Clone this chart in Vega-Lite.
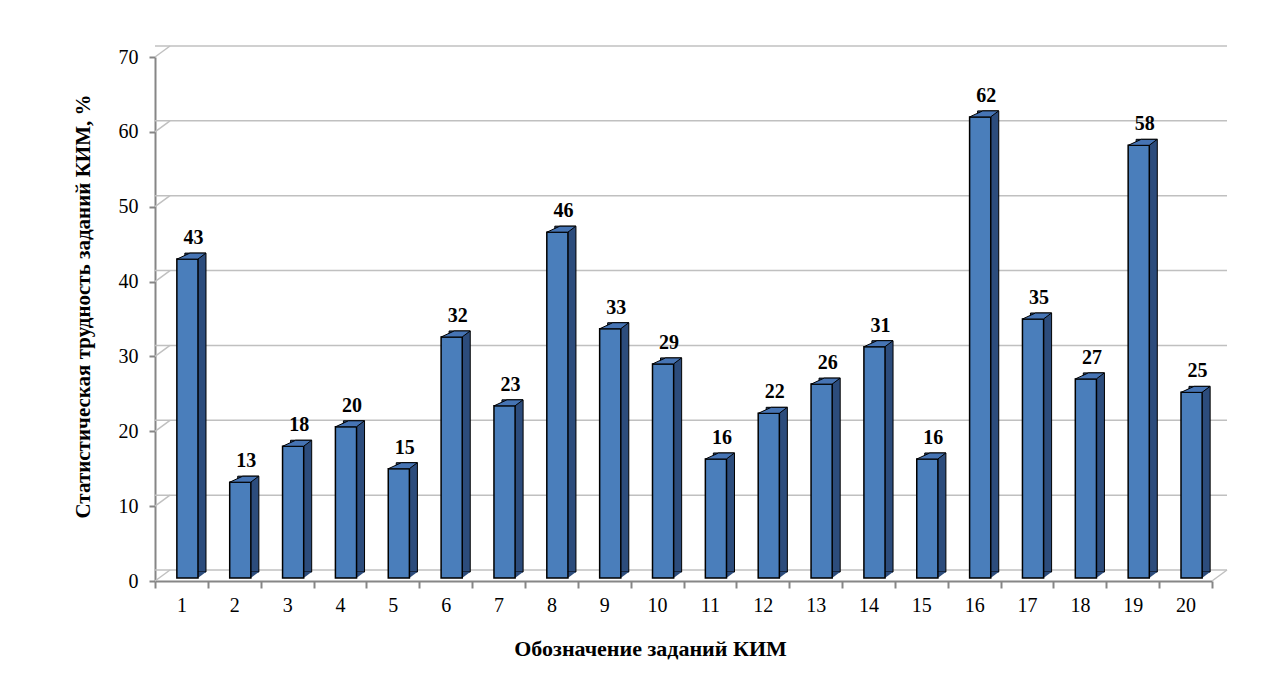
{
  "$schema": "https://vega.github.io/schema/vega-lite/v6.json",
  "width": 1057,
  "height": 524,
  "autosize": {"type": "none"},
  "padding": {"left": 155, "top": 57, "right": 54, "bottom": 113},
  "background": "white",
  "config": {
    "view": {"stroke": null},
    "font": "Liberation Serif",
    "axis": {
      "grid": false,
      "domainColor": "#868686", "domainWidth": 2,
      "tickColor": "#868686", "tickWidth": 2,
      "labelFont": "Liberation Serif", "labelFontSize": 20, "labelColor": "#000000",
      "titleFont": "Liberation Serif", "titleFontWeight": "bold", "titleColor": "#000000"
    },
    "axisX": {"labelAngle": 0, "tickBand": "extent", "tickSize": 7, "labelPadding": 7, "titlePadding": 23, "titleFontSize": 22, "titleX": 495},
    "axisY": {"tickSize": 6, "labelPadding": 11, "titlePadding": 25, "tickCount": 8, "titleFontSize": 21, "titleY": 249}
  },
  "datasets": {
    "tasks": [
      {"task": 1, "value": 42.6, "label": "43"},
      {"task": 2, "value": 12.8, "label": "13"},
      {"task": 3, "value": 17.6, "label": "18"},
      {"task": 4, "value": 20.2, "label": "20"},
      {"task": 5, "value": 14.6, "label": "15"},
      {"task": 6, "value": 32.2, "label": "32"},
      {"task": 7, "value": 23.0, "label": "23"},
      {"task": 8, "value": 46.2, "label": "46"},
      {"task": 9, "value": 33.3, "label": "33"},
      {"task": 10, "value": 28.6, "label": "29"},
      {"task": 11, "value": 15.9, "label": "16"},
      {"task": 12, "value": 22.0, "label": "22"},
      {"task": 13, "value": 25.9, "label": "26"},
      {"task": 14, "value": 30.9, "label": "31"},
      {"task": 15, "value": 15.9, "label": "16"},
      {"task": 16, "value": 61.6, "label": "62"},
      {"task": 17, "value": 34.6, "label": "35"},
      {"task": 18, "value": 26.6, "label": "27"},
      {"task": 19, "value": 57.8, "label": "58"},
      {"task": 20, "value": 24.8, "label": "25"}
    ],
    "grid": [{"v": 0}, {"v": 10}, {"v": 20}, {"v": 30}, {"v": 40}, {"v": 50}, {"v": 60}, {"v": 70}]
  },
  "layer": [
    {
      "data": {"name": "grid"},
      "mark": {"type": "rule", "color": "#c0c0c0", "strokeWidth": 1.5, "xOffset": 15, "yOffset": -11},
      "encoding": {
        "y": {"field": "v", "type": "quantitative", "scale": {"domain": [0, 70]}}
      }
    },
    {
      "data": {"name": "grid"},
      "mark": {"type": "point", "shape": "M-1,0.733L1,-0.733", "size": 225, "filled": false, "stroke": "#c0c0c0", "strokeWidth": 1.5, "opacity": 1, "xOffset": 7.5, "yOffset": -5.5},
      "encoding": {
        "x": {"datum": 1, "type": "ordinal", "bandPosition": 0},
        "y": {"field": "v", "type": "quantitative"}
      }
    },
    {
      "data": {"name": "grid"},
      "transform": [{"filter": "datum.v == 0"}],
      "mark": {"type": "point", "shape": "M-1,0.733L1,-0.733", "size": 225, "filled": false, "stroke": "#c0c0c0", "strokeWidth": 1.5, "opacity": 1, "xOffset": 7.5, "yOffset": -5.5},
      "encoding": {
        "x": {"datum": 20, "type": "ordinal", "bandPosition": 1},
        "y": {"field": "v", "type": "quantitative"}
      }
    },
    {
      "data": {"name": "tasks"},
      "mark": {"type": "bar", "color": "#2c4c7c", "stroke": "#000000", "strokeWidth": 1, "width": {"band": 0.4}, "xOffset": 14, "yOffset": -9},
      "encoding": {
        "x": {"field": "task", "type": "ordinal"},
        "y": {"field": "value", "type": "quantitative"}
      }
    },
    {
      "data": {"name": "tasks"},
      "mark": {"type": "point", "shape": "M0.525,0L0.525,-0.3L0.925,-0.3Z", "size": 1600, "filled": true, "color": "#2c4c7c", "opacity": 1, "strokeWidth": 0, "xOffset": 6, "yOffset": -3},
      "encoding": {
        "x": {"field": "task", "type": "ordinal"},
        "y": {"datum": 0, "type": "quantitative"}
      }
    },
    {
      "data": {"name": "tasks"},
      "mark": {"type": "bar", "color": "#4a7ebb", "stroke": "#000000", "strokeWidth": 1.5, "width": {"band": 0.4}, "xOffset": 6, "yOffset": -3},
      "encoding": {
        "x": {
          "field": "task", "type": "ordinal",
          "scale": {"paddingInner": 0, "paddingOuter": 0},
          "title": "Обозначение заданий КИМ"
        },
        "y": {
          "field": "value", "type": "quantitative",
          "title": "Статистическая трудность заданий КИМ, %"
        }
      }
    },
    {
      "data": {"name": "tasks"},
      "mark": {"type": "point", "shape": "M-0.525,0L0.525,0L0.925,-0.3L0.125,-0.3Z", "size": 1600, "filled": true, "color": "#4674b4", "stroke": "#000000", "strokeWidth": 1, "opacity": 1, "xOffset": 6, "yOffset": -3},
      "encoding": {
        "x": {"field": "task", "type": "ordinal"},
        "y": {"field": "value", "type": "quantitative"}
      }
    },
    {
      "data": {"name": "tasks"},
      "mark": {"type": "text", "font": "Liberation Serif", "fontSize": 20, "fontWeight": "bold", "color": "#000000", "baseline": "alphabetic", "align": "center", "xOffset": 12, "yOffset": -18},
      "encoding": {
        "x": {"field": "task", "type": "ordinal"},
        "y": {"field": "value", "type": "quantitative"},
        "text": {"field": "label"}
      }
    }
  ]
}
